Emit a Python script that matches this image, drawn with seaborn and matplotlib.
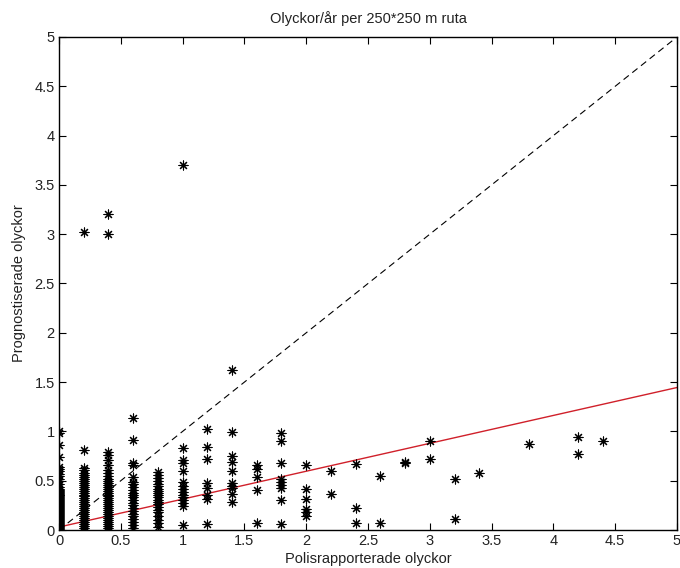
import numpy as np
import pandas as pd
import matplotlib
matplotlib.use("Agg")
import matplotlib.pyplot as plt
import seaborn as sns

# Police-reported accidents (x) vs predicted accidents (y), per grid cell
x0_vals = [0.0, 0.01, 0.02, 0.03, 0.04, 0.05, 0.06, 0.07, 0.08, 0.09, 0.10, 0.11,
           0.12, 0.13, 0.14, 0.15, 0.16, 0.17, 0.18, 0.19, 0.20, 0.21, 0.22, 0.23,
           0.24, 0.25, 0.26, 0.27, 0.28, 0.29, 0.30, 0.31, 0.32, 0.33, 0.34, 0.35,
           0.36, 0.37, 0.38, 0.39, 0.40, 0.41, 0.42, 0.44, 0.47, 0.50, 0.52, 0.55,
           0.57, 0.60, 0.62, 0.64, 0.74, 0.86, 0.98, 1.0]
x02_vals = [0.0, 0.02, 0.04, 0.06, 0.08, 0.10, 0.12, 0.14, 0.16, 0.18, 0.20, 0.22,
            0.24, 0.26, 0.28, 0.30, 0.32, 0.34, 0.36, 0.38, 0.40, 0.42, 0.44, 0.46,
            0.48, 0.50, 0.52, 0.54, 0.56, 0.58, 0.61, 0.63, 0.81, 3.02]
x04_vals = [0.0, 0.02, 0.04, 0.06, 0.08, 0.10, 0.12, 0.14, 0.16, 0.18, 0.20, 0.22,
            0.24, 0.26, 0.28, 0.30, 0.32, 0.34, 0.36, 0.38, 0.40, 0.42, 0.44, 0.46,
            0.48, 0.50, 0.52, 0.55, 0.58, 0.61, 0.66, 0.71, 0.76, 0.79, 3.0, 3.2]
x06_vals = [0.02, 0.05, 0.08, 0.11, 0.14, 0.16, 0.19, 0.22, 0.25, 0.27, 0.30, 0.33,
            0.35, 0.38, 0.41, 0.44, 0.47, 0.49, 0.54, 0.66, 0.68, 0.91, 1.14]
x08_vals = [0.03, 0.07, 0.10, 0.14, 0.18, 0.20, 0.23, 0.26, 0.28, 0.30, 0.33, 0.35,
            0.38, 0.40, 0.42, 0.45, 0.47, 0.50, 0.53, 0.56, 0.59]
x10_vals = [0.05, 0.24, 0.27, 0.30, 0.33, 0.36, 0.39, 0.42, 0.45, 0.49, 0.60, 0.68,
            0.71, 0.83, 3.7]
x12_vals = [0.06, 0.31, 0.35, 0.43, 0.48, 0.72, 0.84, 1.02]
x14_vals = [0.28, 0.37, 0.43, 0.45, 0.48, 0.60, 0.69, 0.75, 0.99, 1.62]
x16_vals = [0.07, 0.41, 0.54, 0.62, 0.66]
x18_vals = [0.06, 0.30, 0.43, 0.46, 0.49, 0.52, 0.68, 0.90, 0.98]
x20_vals = [0.14, 0.18, 0.21, 0.31, 0.42, 0.66]
x22_vals = [0.37, 0.60]
x24_vals = [0.07, 0.22, 0.67]
x26_vals = [0.07, 0.55]
x28_vals = [0.68, 0.69]
x30_vals = [0.72, 0.90]
x32_vals = [0.11, 0.52]
x34_vals = [0.58]
x38_vals = [0.87]
x42_vals = [0.77, 0.94]
x44_vals = [0.90]

columns = {0.0: x0_vals, 0.2: x02_vals, 0.4: x04_vals, 0.6: x06_vals, 0.8: x08_vals,
           1.0: x10_vals, 1.2: x12_vals, 1.4: x14_vals, 1.6: x16_vals, 1.8: x18_vals,
           2.0: x20_vals, 2.2: x22_vals, 2.4: x24_vals, 2.6: x26_vals, 2.8: x28_vals,
           3.0: x30_vals, 3.2: x32_vals, 3.4: x34_vals, 3.8: x38_vals, 4.2: x42_vals,
           4.4: x44_vals}

# fitted line and the 1:1 reference line
fit_intercept = 0.03
fit_slope = 0.283
line_x = [0, 5]
tick_vals = [0, 0.5, 1, 1.5, 2, 2.5, 3, 3.5, 4, 4.5, 5]
tick_labels = ["0", "0.5", "1", "1.5", "2", "2.5", "3", "3.5", "4", "4.5", "5"]

rows = [(x, y) for x, ys in columns.items() for y in ys]
df = pd.DataFrame(rows, columns=["polis", "prognos"])

sns.set_style("ticks")
plt.rcParams["font.family"] = ["Liberation Sans", "DejaVu Sans"]

fig = plt.figure(figsize=(6.8, 5.68), dpi=100)
ax = fig.add_axes([0.0868, 0.0669, 0.9088, 0.868])

sns.scatterplot(data=df, x="polis", y="prognos", marker=(8, 2, 0), s=42,
                color="black", linewidth=0.8, ax=ax, zorder=3)
sns.lineplot(x=line_x, y=line_x, color="black", linestyle=(0, (6, 4)),
             linewidth=0.8, ax=ax)
sns.lineplot(x=line_x, y=[fit_intercept + fit_slope * v for v in line_x],
             color="#d0202a", linewidth=1.0, ax=ax)

ax.set_xlim(0, 5)
ax.set_ylim(0, 5)
ax.set_xticks(tick_vals)
ax.set_yticks(tick_vals)
ax.set_xticklabels(tick_labels)
ax.set_yticklabels(tick_labels)
ax.tick_params(direction="in", top=True, right=True, length=5, width=0.8,
               labelsize=10.5, pad=3, color="black", labelcolor="#222222")
for sp in ax.spines.values():
    sp.set_linewidth(1.0)
    sp.set_color("black")

ax.set_xlabel("Polisrapporterade olyckor", fontsize=10.5, labelpad=3, color="#222222")
ax.set_ylabel("Prognostiserade olyckor", fontsize=10.5, labelpad=6, color="#222222")
ax.set_title("Olyckor/år per 250*250 m ruta", fontsize=10.5, pad=10, color="#222222")

fig.savefig("out.png", dpi=100)
